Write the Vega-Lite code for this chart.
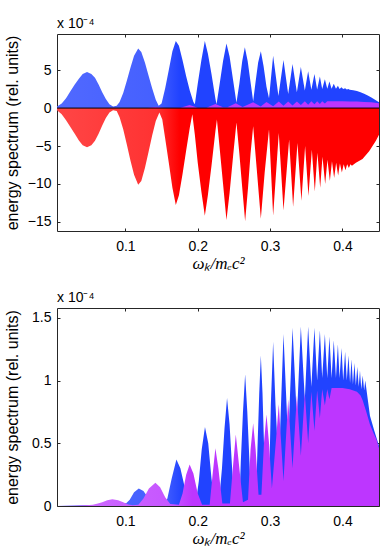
{
"$schema": "https://vega.github.io/schema/vega-lite/v6.json",
"background": "white",
"padding": {"left": 3, "top": 16, "right": 4, "bottom": 0},
"spacing": 18,
"datasets": {
"topBlue": [{"x":0.0055,"y":0.2},{"x":0.012,"y":0.6},{"x":0.018,"y":1.3},{"x":0.024,"y":2.2},{"x":0.030,"y":3.1},{"x":0.036,"y":3.9},{"x":0.041,"y":4.5},{"x":0.047,"y":4.75},{"x":0.053,"y":4.5},{"x":0.058,"y":4.0},{"x":0.063,"y":3.1},{"x":0.068,"y":2.1},{"x":0.073,"y":1.2},{"x":0.078,"y":0.5},{"x":0.083,"y":0.2},{"x":0.088,"y":0.3},
{"x":0.092,"y":0.8},{"x":0.097,"y":2.0},{"x":0.102,"y":3.6},{"x":0.107,"y":5.3},{"x":0.112,"y":6.9},{"x":0.1177,"y":7.85},{"x":0.122,"y":7.4},{"x":0.127,"y":6.0},{"x":0.132,"y":4.3},{"x":0.137,"y":2.6},{"x":0.142,"y":1.1},{"x":0.146,"y":0.3},
{"x":0.150,"y":0.6},{"x":0.155,"y":2.6},{"x":0.160,"y":5.0},{"x":0.165,"y":7.5},{"x":0.1697,"y":8.83},{"x":0.174,"y":8.2},{"x":0.179,"y":6.3},{"x":0.184,"y":4.2},{"x":0.189,"y":2.3},{"x":0.194,"y":0.8},
{"x":0.196,"y":0.5},{"x":0.200,"y":3.2},{"x":0.205,"y":6.3},{"x":0.2098,"y":8.83},{"x":0.214,"y":7.2},{"x":0.219,"y":4.5},{"x":0.2245,"y":1.2},{"x":0.226,"y":0.5},
{"x":0.230,"y":3.0},{"x":0.235,"y":6.2},{"x":0.2397,"y":8.5},{"x":0.244,"y":6.8},{"x":0.249,"y":3.6},{"x":0.2535,"y":0.7},
{"x":0.2575,"y":3.2},{"x":0.2615,"y":6.2},{"x":0.2651,"y":8.0},{"x":0.269,"y":6.2},{"x":0.273,"y":3.4},{"x":0.2766,"y":0.9},
{"x":0.280,"y":3.5},{"x":0.2835,"y":6.0},{"x":0.2872,"y":7.5},{"x":0.291,"y":5.5},{"x":0.295,"y":2.8},{"x":0.2985,"y":1.3},
{"x":0.3042,"y":6.9},{"x":0.3115,"y":1.6},{"x":0.3185,"y":6.35},{"x":0.325,"y":1.85},{"x":0.331,"y":5.8},{"x":0.337,"y":2.1},{"x":0.3425,"y":5.4},{"x":0.348,"y":2.3},{"x":0.3526,"y":4.85},{"x":0.357,"y":2.4},{"x":0.3613,"y":4.5},{"x":0.365,"y":2.45},{"x":0.3688,"y":4.15},{"x":0.372,"y":2.5},{"x":0.3757,"y":3.8},{"x":0.379,"y":2.55},{"x":0.382,"y":3.5},{"x":0.385,"y":2.55},{"x":0.388,"y":3.2},{"x":0.391,"y":2.55},{"x":0.3937,"y":2.95},{"x":0.396,"y":2.5},{"x":0.3987,"y":2.75},{"x":0.401,"y":2.5},{"x":0.4037,"y":2.6},{"x":0.406,"y":2.45},{"x":0.4083,"y":2.5},{"x":0.41,"y":2.4},{"x":0.415,"y":2.35},{"x":0.42,"y":2.25},{"x":0.425,"y":2.1},{"x":0.43,"y":1.9},{"x":0.435,"y":1.65},{"x":0.44,"y":1.4},{"x":0.445,"y":1.1},{"x":0.4505,"y":0.75}],
"topRed": [{"x":0.0055,"y":-0.3},{"x":0.012,"y":-0.8},{"x":0.018,"y":-1.6},{"x":0.024,"y":-2.5},{"x":0.030,"y":-3.4},{"x":0.036,"y":-4.3},{"x":0.041,"y":-4.9},{"x":0.047,"y":-5.17},{"x":0.053,"y":-4.9},{"x":0.058,"y":-4.3},{"x":0.063,"y":-3.4},{"x":0.068,"y":-2.3},{"x":0.073,"y":-1.3},{"x":0.078,"y":-0.6},{"x":0.083,"y":-0.3},{"x":0.088,"y":-0.4},
{"x":0.092,"y":-1.2},{"x":0.097,"y":-2.8},{"x":0.102,"y":-4.8},{"x":0.107,"y":-6.9},{"x":0.112,"y":-8.8},{"x":0.1177,"y":-10.1},{"x":0.122,"y":-9.6},{"x":0.127,"y":-7.9},{"x":0.132,"y":-5.8},{"x":0.137,"y":-3.6},{"x":0.142,"y":-1.7},{"x":0.147,"y":-0.6},
{"x":0.151,"y":-1.5},{"x":0.155,"y":-4.0},{"x":0.160,"y":-7.2},{"x":0.165,"y":-10.5},{"x":0.1697,"y":-12.76},{"x":0.174,"y":-11.5},{"x":0.179,"y":-8.7},{"x":0.184,"y":-5.6},{"x":0.189,"y":-2.6},{"x":0.1925,"y":-0.8},
{"x":0.196,"y":-3.5},{"x":0.200,"y":-7.2},{"x":0.205,"y":-11.0},{"x":0.2098,"y":-14.2},{"x":0.214,"y":-11.5},{"x":0.219,"y":-7.6},{"x":0.2245,"y":-3.0},{"x":0.2265,"y":-1.5},
{"x":0.230,"y":-5.0},{"x":0.235,"y":-10.0},{"x":0.2397,"y":-14.75},{"x":0.244,"y":-11.2},{"x":0.249,"y":-6.2},{"x":0.2535,"y":-1.9},
{"x":0.2575,"y":-6.0},{"x":0.2615,"y":-10.5},{"x":0.2655,"y":-14.9},{"x":0.2695,"y":-10.5},{"x":0.273,"y":-6.0},{"x":0.2766,"y":-2.4},
{"x":0.2815,"y":-8.0},{"x":0.2872,"y":-14.6},{"x":0.2925,"y":-8.5},{"x":0.2985,"y":-2.8},
{"x":0.3042,"y":-14.2},{"x":0.312,"y":-3.3},{"x":0.3185,"y":-13.5},{"x":0.3263,"y":-4.15},{"x":0.3318,"y":-13.0},{"x":0.3378,"y":-4.6},{"x":0.3433,"y":-12.2},{"x":0.3484,"y":-5.0},{"x":0.353,"y":-11.6},{"x":0.3577,"y":-5.5},{"x":0.3618,"y":-11.0},{"x":0.3654,"y":-5.9},{"x":0.3692,"y":-10.5},{"x":0.3724,"y":-6.4},{"x":0.3761,"y":-10.0},{"x":0.3793,"y":-6.8},{"x":0.3826,"y":-9.6},{"x":0.3855,"y":-7.0},{"x":0.3885,"y":-9.2},{"x":0.3913,"y":-7.2},{"x":0.394,"y":-8.9},{"x":0.3965,"y":-7.3},{"x":0.3992,"y":-8.5},{"x":0.4017,"y":-7.4},{"x":0.4042,"y":-8.2},{"x":0.4065,"y":-7.4},{"x":0.4089,"y":-7.9},{"x":0.411,"y":-7.4},{"x":0.4131,"y":-7.6},{"x":0.4186,"y":-7.2},{"x":0.4277,"y":-6.7},{"x":0.4369,"y":-5.7},{"x":0.4462,"y":-4.3},{"x":0.4505,"y":-3.5}],
"topMagenta": [{"x":0.13,"y":0},{"x":0.1415,"y":0.15},{"x":0.155,"y":0},{"x":0.176,"y":0.05},{"x":0.1888,"y":0.4},{"x":0.2,"y":0.05},{"x":0.212,"y":0.05},{"x":0.2244,"y":0.55},{"x":0.235,"y":0.1},{"x":0.241,"y":0.1},{"x":0.2526,"y":0.65},{"x":0.262,"y":0.15},{"x":0.2766,"y":0.75},{"x":0.287,"y":0.2},{"x":0.295,"y":0.8},{"x":0.3042,"y":0.25},{"x":0.312,"y":0.85},{"x":0.3185,"y":0.3},{"x":0.325,"y":0.85},{"x":0.331,"y":0.35},{"x":0.337,"y":0.88},{"x":0.3425,"y":0.4},{"x":0.348,"y":0.9},{"x":0.3526,"y":0.45},{"x":0.357,"y":0.9},{"x":0.3613,"y":0.5},{"x":0.365,"y":0.9},{"x":0.3688,"y":0.55},{"x":0.372,"y":0.9},{"x":0.3757,"y":0.6},{"x":0.379,"y":0.9},{"x":0.39,"y":0.9},{"x":0.40,"y":0.9},{"x":0.41,"y":0.88},{"x":0.42,"y":0.85},{"x":0.43,"y":0.8},{"x":0.44,"y":0.75},{"x":0.4505,"y":0.65}],
"zeroLine": [{"y":0}],
"botBlue": [{"x":0.0055,"y":0},{"x":0.03,"y":0.003},{"x":0.047,"y":0.008},{"x":0.07,"y":0.004},{"x":0.09,"y":0.006},{"x":0.100,"y":0.015},{"x":0.106,"y":0.05},{"x":0.112,"y":0.11},{"x":0.1185,"y":0.14},{"x":0.125,"y":0.12},{"x":0.131,"y":0.07},{"x":0.137,"y":0.02},{"x":0.143,"y":0.005},
{"x":0.152,"y":0.008},{"x":0.158,"y":0.06},{"x":0.164,"y":0.22},{"x":0.1705,"y":0.37},{"x":0.176,"y":0.3},{"x":0.182,"y":0.15},{"x":0.188,"y":0.04},{"x":0.193,"y":0.005},
{"x":0.197,"y":0.01},{"x":0.2015,"y":0.2},{"x":0.2055,"y":0.45},{"x":0.210,"y":0.63},{"x":0.2145,"y":0.5},{"x":0.219,"y":0.22},{"x":0.2235,"y":0.01},
{"x":0.229,"y":0.01},{"x":0.2335,"y":0.3},{"x":0.237,"y":0.62},{"x":0.2405,"y":0.86},{"x":0.244,"y":0.65},{"x":0.2475,"y":0.3},{"x":0.2505,"y":0.01},
{"x":0.2575,"y":0.02},{"x":0.2595,"y":0.35},{"x":0.2625,"y":0.75},{"x":0.2655,"y":1.05},{"x":0.2685,"y":0.75},{"x":0.2715,"y":0.35},{"x":0.274,"y":0.02},
{"x":0.2805,"y":0.05},{"x":0.2825,"y":0.45},{"x":0.285,"y":0.9},{"x":0.2872,"y":1.2},{"x":0.2895,"y":0.9},{"x":0.2918,"y":0.45},{"x":0.2935,"y":0.1},
{"x":0.2985,"y":0.15},{"x":0.301,"y":0.8},{"x":0.3042,"y":1.31},{"x":0.3075,"y":0.8},{"x":0.312,"y":0.3},{"x":0.3185,"y":1.37},{"x":0.325,"y":0.5},{"x":0.331,"y":1.42},{"x":0.337,"y":0.7},{"x":0.3425,"y":1.43},{"x":0.348,"y":0.85},{"x":0.3526,"y":1.43},{"x":0.357,"y":0.95},{"x":0.3613,"y":1.42},{"x":0.365,"y":1.0},{"x":0.3688,"y":1.40},{"x":0.372,"y":1.02},{"x":0.3757,"y":1.37},{"x":0.379,"y":1.02},{"x":0.382,"y":1.35},{"x":0.385,"y":1.02},{"x":0.388,"y":1.32},{"x":0.391,"y":1.02},{"x":0.3937,"y":1.29},{"x":0.396,"y":1.02},{"x":0.3987,"y":1.26},{"x":0.401,"y":1.0},{"x":0.4037,"y":1.23},{"x":0.406,"y":1.0},{"x":0.4083,"y":1.2},{"x":0.4105,"y":0.98},{"x":0.4125,"y":1.17},{"x":0.4145,"y":0.97},{"x":0.4166,"y":1.14},{"x":0.4185,"y":0.96},{"x":0.4205,"y":1.11},{"x":0.4225,"y":0.95},{"x":0.4242,"y":1.08},{"x":0.426,"y":0.93},{"x":0.428,"y":1.04},{"x":0.43,"y":0.92},{"x":0.4315,"y":1.0},{"x":0.438,"y":0.72},{"x":0.444,"y":0.6},{"x":0.4505,"y":0.48}],
"botMagenta": [{"x":0.0055,"y":0},{"x":0.03,"y":0.002},{"x":0.045,"y":0.005},{"x":0.055,"y":0.01},{"x":0.062,"y":0.02},{"x":0.068,"y":0.03},{"x":0.075,"y":0.045},{"x":0.082,"y":0.053},{"x":0.09,"y":0.045},{"x":0.097,"y":0.03},{"x":0.104,"y":0.012},{"x":0.11,"y":0.005},{"x":0.118,"y":0.01},
{"x":0.125,"y":0.06},{"x":0.1325,"y":0.14},{"x":0.1415,"y":0.186},{"x":0.148,"y":0.15},{"x":0.155,"y":0.07},{"x":0.162,"y":0.015},
{"x":0.174,"y":0.01},{"x":0.179,"y":0.1},{"x":0.184,"y":0.25},{"x":0.1888,"y":0.33},{"x":0.194,"y":0.26},{"x":0.2,"y":0.1},{"x":0.206,"y":0.01},
{"x":0.2165,"y":0.01},{"x":0.2205,"y":0.25},{"x":0.2244,"y":0.46},{"x":0.2285,"y":0.3},{"x":0.234,"y":0.02},
{"x":0.2445,"y":0.02},{"x":0.2485,"y":0.3},{"x":0.2526,"y":0.57},{"x":0.2575,"y":0.3},{"x":0.2625,"y":0.03},
{"x":0.2695,"y":0.05},{"x":0.273,"y":0.45},{"x":0.2766,"y":0.66},{"x":0.280,"y":0.45},{"x":0.284,"y":0.09},
{"x":0.288,"y":0.09},{"x":0.2915,"y":0.5},{"x":0.295,"y":0.73},{"x":0.2985,"y":0.5},{"x":0.3025,"y":0.14},
{"x":0.3085,"y":0.55},{"x":0.312,"y":0.81},{"x":0.3185,"y":0.2},{"x":0.325,"y":0.85},{"x":0.331,"y":0.3},{"x":0.337,"y":0.88},{"x":0.3425,"y":0.4},{"x":0.348,"y":0.9},{"x":0.3526,"y":0.5},{"x":0.357,"y":0.91},{"x":0.3613,"y":0.6},{"x":0.365,"y":0.92},{"x":0.3688,"y":0.7},{"x":0.372,"y":0.93},{"x":0.3757,"y":0.8},{"x":0.379,"y":0.93},{"x":0.382,"y":0.85},{"x":0.385,"y":0.94},{"x":0.39,"y":0.94},{"x":0.40,"y":0.94},{"x":0.41,"y":0.93},{"x":0.415,"y":0.92},{"x":0.42,"y":0.91},{"x":0.425,"y":0.88},{"x":0.428,"y":0.84},{"x":0.433,"y":0.75},{"x":0.438,"y":0.65},{"x":0.443,"y":0.58},{"x":0.447,"y":0.53},{"x":0.4505,"y":0.46}]
},
"vconcat": [
{
"width": 322, "height": 197,
"title": {"text": "x 10⁻⁴", "anchor": "start", "frame": "group", "offset": 3, "fontSize": 14, "fontWeight": "normal", "font": "Liberation Sans", "color": "#000"},
"resolve": {"axis": {"x": "independent", "y": "independent"}},
"layer": [
{"data": {"name": "topBlue"}, "mark": {"type": "area", "color": {"gradient": "linear", "x1": 0, "y1": 0, "x2": 1, "y2": 0, "stops": [{"offset": 0, "color": "#5169ff"}, {"offset": 0.31, "color": "#4560ff"}, {"offset": 0.38, "color": "#2143ff"}, {"offset": 1, "color": "#2143ff"}]}},
 "encoding": {
  "x": {"field": "x", "type": "quantitative", "scale": {"domain": [0.0055, 0.4505], "nice": false},
        "axis": {"orient": "bottom", "values": [0.1, 0.2, 0.3, 0.4], "format": ".1f", "title": "ωₖ/mₑc²", "titleFont": "Liberation Serif", "titleFontStyle": "italic", "titleFontSize": 17, "titlePadding": 2}},
  "y": {"field": "y", "type": "quantitative", "scale": {"domain": [-16.2, 9.76], "nice": false},
        "axis": {"orient": "left", "values": [-15, -10, -5, 0, 5], "title": "energy spectrum (rel. units)", "titleX": -37}},
  "y2": {"datum": 0}}},
{"data": {"name": "topRed"}, "mark": {"type": "area", "color": {"gradient": "linear", "x1": 0, "y1": 0, "x2": 1, "y2": 0, "stops": [{"offset": 0, "color": "#ff4646"}, {"offset": 0.31, "color": "#ff3232"}, {"offset": 0.38, "color": "#ff0000"}, {"offset": 1, "color": "#ff0000"}]}},
 "encoding": {
  "x": {"field": "x", "type": "quantitative", "scale": {"domain": [0.0055, 0.4505], "nice": false},
        "axis": {"orient": "top", "values": [0.1, 0.2, 0.3, 0.4], "labels": false, "title": null}},
  "y": {"field": "y", "type": "quantitative", "scale": {"domain": [-16.2, 9.76], "nice": false},
        "axis": {"orient": "right", "values": [-15, -10, -5, 0, 5], "labels": false, "title": null}},
  "y2": {"datum": 0}}},
{"data": {"name": "topMagenta"}, "mark": {"type": "area", "color": "#bd36ff"},
 "encoding": {
  "x": {"field": "x", "type": "quantitative", "scale": {"domain": [0.0055, 0.4505], "nice": false}, "axis": null},
  "y": {"field": "y", "type": "quantitative", "scale": {"domain": [-16.2, 9.76], "nice": false}, "axis": null},
  "y2": {"datum": 0}}},
{"data": {"name": "zeroLine"}, "mark": {"type": "rule", "color": "#000", "strokeWidth": 1},
 "encoding": {
  "y": {"field": "y", "type": "quantitative", "scale": {"domain": [-16.2, 9.76], "nice": false}, "axis": null}}}
]
},
{
"width": 322, "height": 198,
"title": {"text": "x 10⁻⁴", "anchor": "start", "frame": "group", "offset": 3, "fontSize": 14, "fontWeight": "normal", "font": "Liberation Sans", "color": "#000"},
"resolve": {"axis": {"x": "independent", "y": "independent"}},
"layer": [
{"data": {"name": "botBlue"}, "mark": {"type": "area", "color": {"gradient": "linear", "x1": 0, "y1": 0, "x2": 1, "y2": 0, "stops": [{"offset": 0, "color": "#5169ff"}, {"offset": 0.33, "color": "#4560ff"}, {"offset": 0.39, "color": "#2143ff"}, {"offset": 1, "color": "#2143ff"}]}},
 "encoding": {
  "x": {"field": "x", "type": "quantitative", "scale": {"domain": [0.0055, 0.4505], "nice": false},
        "axis": {"orient": "bottom", "values": [0.1, 0.2, 0.3, 0.4], "format": ".1f", "title": "ωₖ/mₑc²", "titleFont": "Liberation Serif", "titleFontStyle": "italic", "titleFontSize": 17, "titlePadding": 2}},
  "y": {"field": "y", "type": "quantitative", "scale": {"domain": [0, 1.578], "nice": false},
        "axis": {"orient": "left", "values": [0, 0.5, 1, 1.5], "format": ".1~f", "title": "energy spectrum (rel. units)", "titleX": -37}},
  "y2": {"datum": 0}}},
{"data": {"name": "botMagenta"}, "mark": {"type": "area", "color": {"gradient": "linear", "x1": 0, "y1": 0, "x2": 1, "y2": 0, "stops": [{"offset": 0, "color": "#cf70ff"}, {"offset": 0.36, "color": "#c655ff"}, {"offset": 0.42, "color": "#bd36ff"}, {"offset": 1, "color": "#bd36ff"}]}},
 "encoding": {
  "x": {"field": "x", "type": "quantitative", "scale": {"domain": [0.0055, 0.4505], "nice": false},
        "axis": {"orient": "top", "values": [0.1, 0.2, 0.3, 0.4], "labels": false, "title": null}},
  "y": {"field": "y", "type": "quantitative", "scale": {"domain": [0, 1.578], "nice": false},
        "axis": {"orient": "right", "values": [0, 0.5, 1, 1.5], "labels": false, "title": null}},
  "y2": {"datum": 0}}}
]
}
],
"config": {
 "view": {"stroke": "#262626", "strokeWidth": 1},
 "font": "Liberation Sans",
 "axis": {"domain": false, "grid": false, "ticks": true, "tickSize": -3, "tickColor": "#262626", "labelPadding": 11, "labelFontSize": 14, "labelColor": "#000", "labelFont": "Liberation Sans", "labelFlush": false, "labelOverlap": false, "titleFont": "Liberation Sans", "titleFontSize": 16, "titleFontWeight": "normal", "titleColor": "#000"},
 "axisLeft": {"labelPadding": 9}
}
}
